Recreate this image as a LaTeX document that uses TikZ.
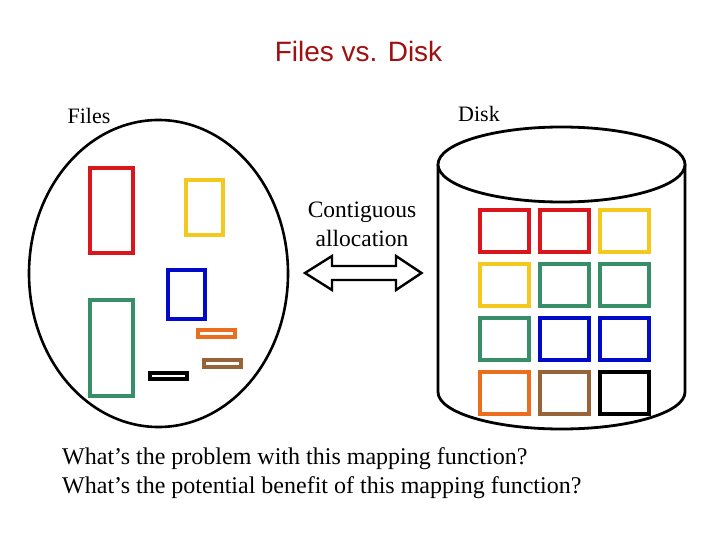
\documentclass[tikz,border=0pt]{standalone}
\usepackage{fontspec}
\setmainfont{Liberation Serif}
\newfontfamily\titlefont{Liberation Sans}
\definecolor{fred}{RGB}{218,22,28}
\definecolor{fyellow}{RGB}{245,200,30}
\definecolor{fgreen}{RGB}{56,142,104}
\definecolor{fblue}{RGB}{0,10,200}
\definecolor{forange}{RGB}{235,110,30}
\definecolor{fbrown}{RGB}{150,100,55}
\definecolor{ftitle}{RGB}{160,16,16}
\begin{document}
\begin{tikzpicture}[x=1pt,y=-1pt,
  blk/.style={line width=3.2pt},
  lbl/.style={inner sep=0pt,anchor=base,font=\fontsize{22}{26}\selectfont},
  body/.style={inner sep=0pt,anchor=base west,font=\fontsize{24}{29}\selectfont}]
\useasboundingbox[fill=white] (0,0) rectangle (720,540);
% title
\node[inner sep=0pt,anchor=base,text=ftitle,font=\titlefont\fontsize{28}{32}\selectfont] (title) at (358.5,62) {Files vs. Disk};
% files ellipse
\draw[line width=2.6pt] (158.5,273.5) ellipse [x radius=129.5,y radius=153.5];
\node[lbl] (files) at (89,124) {Files};
\draw[blk,fred] (90,168) rectangle (133,253);
\draw[blk,fyellow] (186,180) rectangle (223,235);
\draw[blk,fblue] (168,270) rectangle (205,319);
\draw[blk,fgreen] (90,300) rectangle (133,396);
\draw[blk,forange] (198,330) rectangle (235,337);
\draw[blk,fbrown] (204,360) rectangle (241,367);
\draw[blk,black] (150,373) rectangle (187,379);
% disk cylinder
\node[lbl] (disk) at (479,122) {Disk};
\draw[line width=2.8pt] (438,164.5) -- (438,392) arc[start angle=180,end angle=0,x radius=123.5,y radius=37] -- (685,164.5);
\draw[line width=2.8pt,fill=white] (561.5,164.5) ellipse [x radius=123.5,y radius=37.5];
\foreach \c/\x/\y in {fred/480/210, fred/540/210, fyellow/600/210,
                      fyellow/480/264, fgreen/540/264, fgreen/600/264,
                      fgreen/480/318, fblue/540/318, fblue/600/318,
                      forange/480/372, fbrown/540/372, black/600/372}
  \draw[blk,\c] (\x,\y) rectangle ++(49,42);
% arrow
\node[inner sep=0pt,align=center,font=\fontsize{23.5}{29}\selectfont] (alloc) at (362,224) {Contiguous\\allocation};
\draw[line width=2.4pt,line join=miter] (305,273) -- (332,256) -- (332,266) -- (396,266) -- (396,256) -- (421.5,273) -- (396,290) -- (396,280) -- (332,280) -- (332,290) -- cycle;
% questions
\node[body] (q1) at (62,464) {What’s the problem with this mapping function?};
\node[body] (q2) at (62,493) {What’s the potential benefit of this mapping function?};
\end{tikzpicture}
\end{document}
